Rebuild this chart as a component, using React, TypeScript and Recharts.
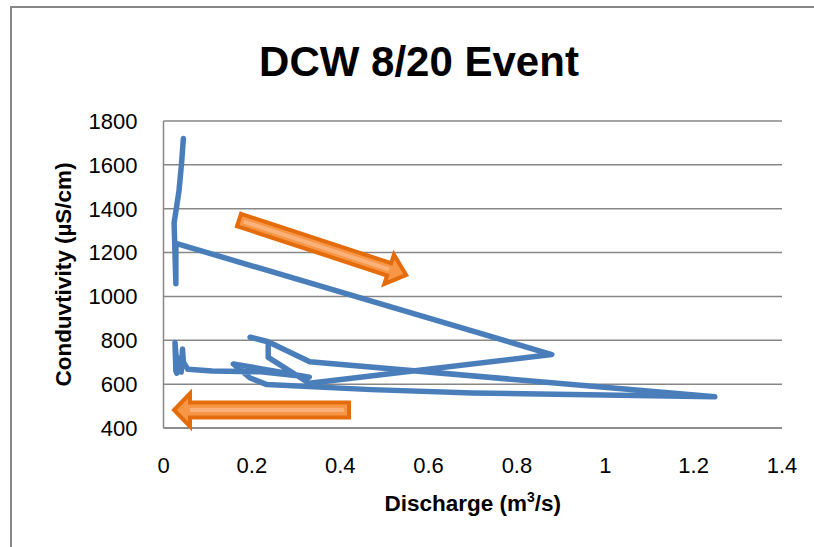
import { CartesianGrid, Line, LineChart, XAxis, YAxis } from "recharts";

// Storm event hysteresis: discharge vs. specific conductance, in time order
const discharge = [
  0.045, 0.041, 0.035, 0.029, 0.024, 0.028, 0.028, 0.879, 0.33, 0.237, 0.237, 0.196, 0.238,
  0.331, 1.248, 0.7, 0.47, 0.234, 0.196, 0.158, 0.33, 0.22, 0.11, 0.055, 0.045, 0.043, 0.04,
  0.03, 0.026, 0.028, 0.032, 0.03,
];
const conductivity = [
  1720, 1610, 1480, 1400, 1335, 1058, 1242, 735, 604, 722, 794, 814, 792, 702, 542, 560, 575,
  598, 628, 692, 632, 656, 660, 668, 700, 760, 655, 690, 790, 660, 720, 650,
];
const xTicks = [0, 0.2, 0.4, 0.6, 0.8, 1, 1.2, 1.4];
const yTicks = [400, 600, 800, 1000, 1200, 1400, 1600, 1800];

const rows = discharge.map((q, i) => ({ q, c: conductivity[i] }));

const FONT = "'Liberation Sans', Arial, sans-serif";
const GRID = "#878787";

// Orange block arrow drawn along +x, then rotated into place
function BlockArrow({
  x,
  y,
  angle,
  length,
  shaft,
  head,
  headLen,
}: {
  x: number;
  y: number;
  angle: number;
  length: number;
  shaft: number;
  head: number;
  headLen: number;
}) {
  const b = length - headLen;
  const pts = [
    [0, -shaft],
    [b, -shaft],
    [b, -head],
    [length, 0],
    [b, head],
    [b, shaft],
    [0, shaft],
  ]
    .map((p) => p.join(","))
    .join(" ");
  return (
    <g transform={`translate(${x},${y}) rotate(${angle})`}>
      <polygon points={pts} fill="#F79646" stroke="#E46C0A" strokeWidth={4} strokeLinejoin="miter" />
      <line x1={5} y1={0} x2={b} y2={0} stroke="#FAB27A" strokeWidth={4} />
    </g>
  );
}

export default function App() {
  return (
    <div
      style={{
        position: "absolute",
        left: 0,
        top: 0,
        width: 814,
        height: 547,
        overflow: "hidden",
        background: "#fff",
        fontFamily: FONT,
      }}
    >
      <div style={{ position: "absolute", left: 0, top: 0 }}>
        <LineChart
          width={814}
          height={547}
          data={rows}
          margin={{ top: 121, right: 32, bottom: 49, left: 0 }}
        >
          <CartesianGrid vertical={false} stroke={GRID} strokeWidth={1.5} />
          <XAxis
            dataKey="q"
            type="number"
            domain={[0, 1.4]}
            ticks={xTicks}
            height={70}
            tickSize={0}
            tickMargin={29}
            axisLine={{ stroke: GRID, strokeWidth: 1.5 }}
            tick={{ fill: "#000", fontSize: 22, fontFamily: FONT }}
          />
          <YAxis
            dataKey="c"
            type="number"
            domain={[400, 1800]}
            ticks={yTicks}
            width={163.5}
            tickSize={0}
            tickMargin={26}
            axisLine={{ stroke: GRID, strokeWidth: 1.5 }}
            tick={{ fill: "#000", fontSize: 22, fontFamily: FONT }}
          />
          <Line
            type="linear"
            dataKey="c"
            stroke="#4A7EBB"
            strokeWidth={5.5}
            strokeLinecap="round"
            strokeLinejoin="round"
            dot={false}
            isAnimationActive={false}
          />
        </LineChart>
      </div>
      <svg
        width={814}
        height={547}
        style={{ position: "absolute", left: 0, top: 0, pointerEvents: "none" }}
        fontFamily={FONT}
      >
        {/* chart area border, cut off by the page edge on the right and bottom */}
        <path d="M11,560 L11,7 L830,7" fill="none" stroke={GRID} strokeWidth={2} />
        <text x={419} y={76} textAnchor="middle" fontSize={42} fontWeight="bold">
          DCW 8/20 Event
        </text>
        <text x={472.75} y={511} textAnchor="middle" fontSize={22.5} fontWeight="bold">
          Discharge (m<tspan fontSize={14} dy={-9}>3</tspan>
          <tspan dy={9}>/s)</tspan>
        </text>
        <text
          x={71}
          y={274.5}
          textAnchor="middle"
          fontSize={22.5}
          fontWeight="bold"
          transform="rotate(-90, 71, 274.5)"
        >
          Conduvtivity (µS/cm)
        </text>
        <BlockArrow x={239} y={220} angle={18.2} length={176} shaft={6.5} head={15.5} headLen={18} />
        <BlockArrow x={349} y={410} angle={180} length={175} shaft={7.5} head={16.5} headLen={16} />
      </svg>
    </div>
  );
}
